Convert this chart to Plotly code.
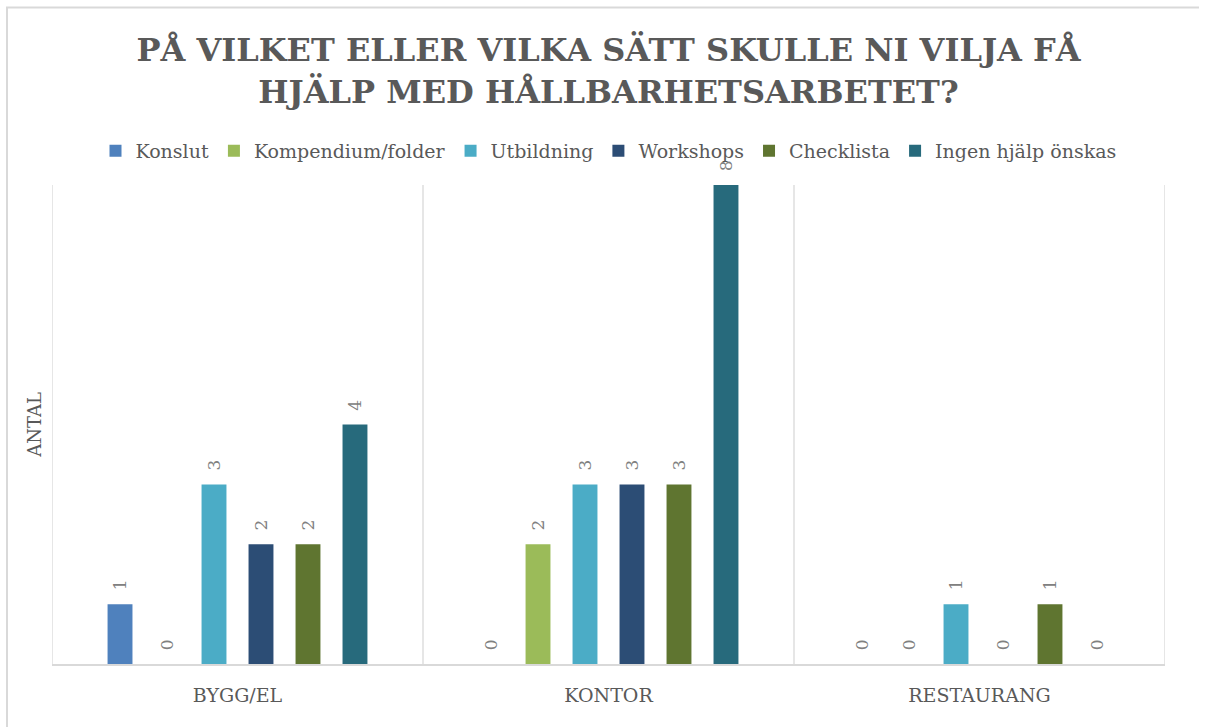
import plotly.graph_objects as go

categories = ["BYGG/EL", "KONTOR", "RESTAURANG"]
series_names = ["Konslut", "Kompendium/folder", "Utbildning", "Workshops", "Checklista", "Ingen hjälp önskas"]
konslut = [1, 0, 0]
kompendium = [0, 2, 0]
utbildning = [3, 3, 1]
workshops = [2, 3, 0]
checklista = [2, 3, 1]
ingen = [4, 8, 0]
series_values = [konslut, kompendium, utbildning, workshops, checklista, ingen]
colors = ["#4f81bd", "#9bbb59", "#4bacc6", "#2c4d75", "#5f7530", "#276a7c"]

W, H = 1209, 727
ml, mr, mt, mb = 52, 44, 185, 63
pw, ph = W - ml - mr, H - mt - mb

def px_x(p):
    return (p - ml) / pw

def px_y(p):
    return (H - mb - p) / ph

serif = "DejaVu Serif"
fig = go.Figure()
for name, vals, col in zip(series_names, series_values, colors):
    fig.add_trace(go.Bar(
        name=name, x=categories, y=vals, marker=dict(color=col, line=dict(width=0)),
        text=vals, texttemplate="\u00a0\u00a0%{y}", textposition="outside", textangle=-90,
        textfont=dict(family=serif, size=17, color="#808080"),
        cliponaxis=False, constraintext="none",
    ))

shapes = []
# category separators
for xb in [-0.5, 0.5, 1.5, 2.5]:
    shapes.append(dict(type="line", xref="x", yref="paper", x0=xb, x1=xb, y0=0, y1=1,
                       line=dict(color="#d9d9d9", width=1.3), layer="below"))
# outer chart border (left and top) as one path
border_path = "M{:.5f},{:.5f} L{:.5f},{:.5f} L{:.5f},{:.5f}".format(
    px_x(7), px_y(740), px_x(7), px_y(7.5), px_x(1199), px_y(7.5))
shapes.append(dict(type="path", xref="paper", yref="paper", path=border_path,
                   line=dict(color="#d9d9d9", width=2), fillcolor="rgba(0,0,0,0)"))

fig.update_layout(
    width=W, height=H, autosize=False,
    margin=dict(l=ml, r=mr, t=mt, b=mb, autoexpand=False),
    paper_bgcolor="white", plot_bgcolor="white",
    barmode="group", bargap=0.24, bargroupgap=0.47,
    title=dict(
        text="<b>PÅ VILKET ELLER VILKA SÄTT SKULLE NI VILJA FÅ<br>HJÄLP MED HÅLLBARHETSARBETET?</b>",
        x=0.5, xanchor="center", xref="paper", y=1 - 61 / H, yanchor="middle",
        font=dict(family=serif, size=32, color="#595959"),
    ),
    legend=dict(orientation="h", x=0.5, xanchor="center", y=px_y(151), yanchor="middle",
                font=dict(family=serif, size=19, color="#595959"), itemwidth=30,
                traceorder="normal", bgcolor="rgba(0,0,0,0)"),
    xaxis=dict(showgrid=False, showline=True, linecolor="#d9d9d9", linewidth=1.5,
               ticks="", range=[-0.5, 2.5],
               tickfont=dict(family=serif, size=19, color="#595959"),
               ticklabelstandoff=13),
    yaxis=dict(range=[0, 8], showgrid=False, showticklabels=False, zeroline=False,
               title=dict(text="ANTAL", font=dict(family=serif, size=18, color="#595959"),
                          standoff=4)),
    shapes=shapes,
    showlegend=True,
)

fig.write_html("out.html", config={"displayModeBar": False})
